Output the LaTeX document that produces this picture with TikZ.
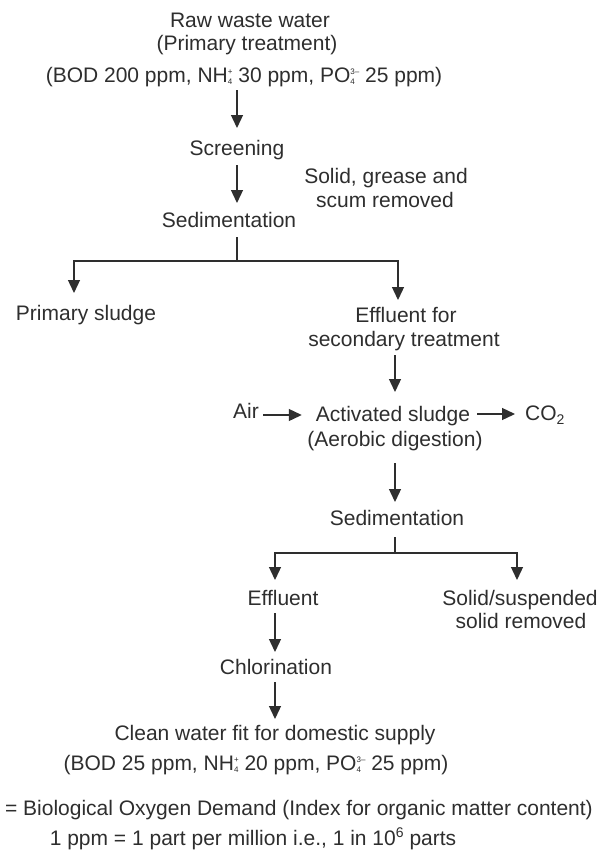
\documentclass[tikz,border=0pt]{standalone}
\usepackage{fontspec}
\setmainfont{Liberation Sans}
\usetikzlibrary{arrows.meta}
\definecolor{ink}{HTML}{2E2E2E}
% stacked subscript / superscript of an ion (e.g. NH4+, PO4 3-)
\newcommand\ionmark[2]{\rlap{\raisebox{-2.5pt}{\fontsize{8}{8}\selectfont #1}}\raisebox{8pt}{\fontsize{8}{8}\selectfont #2}}
\newcommand\lowidx[1]{\raisebox{-4pt}{\fontsize{14}{14}\selectfont #1}}
\newcommand\highidx[1]{\raisebox{8pt}{\fontsize{14}{14}\selectfont #1}}
\begin{document}
\begin{tikzpicture}[x=1pt,y=-1pt,
  txt/.style={inner sep=0pt, anchor=base, text=ink, font=\fontsize{21}{24}\selectfont},
  ln/.style={draw=ink, line width=1.3pt},
  arr/.style={ln, -{Triangle[length=13pt,width=12pt]}}]
\useasboundingbox[fill=white] (0,0) rectangle (602,852);

% primary treatment
\node[txt] (raw1) at (250,27) {Raw waste water};
\node[txt] (raw2) at (247,50) {(Primary treatment)};
\node[txt] (raw3) at (244,82) {(BOD 200 ppm, NH\ionmark{4}{+} 30 ppm, PO\ionmark{4}{3–}\ 25 ppm)};
\node[txt] (scr) at (237,155) {Screening};
\node[txt] (rem1) at (386,183) {Solid, grease and};
\node[txt] (rem2) at (385,207) {scum removed};
\node[txt] (sed1) at (229,227) {Sedimentation};
\node[txt] (psl) at (86,320) {Primary sludge};
\node[txt] (eff1) at (406,322) {Effluent for};
\node[txt] (eff2) at (404,346) {secondary treatment};

% secondary treatment
\node[txt] (air) at (246,418) {Air};
\node[txt] (act1) at (393,421) {Activated sludge};
\node[txt] (act2) at (395,446) {(Aerobic digestion)};
\node[txt, anchor=base west] (co2) at (525,420) {CO\lowidx{2}};
\node[txt] (sed2) at (397,525) {Sedimentation};
\node[txt] (eff) at (283,605) {Effluent};
\node[txt] (sol1) at (520,605) {Solid/suspended};
\node[txt] (sol2) at (521,628) {solid removed};
\node[txt] (chl) at (276,674) {Chlorination};
\node[txt] (cw1) at (275,740) {Clean water fit for domestic supply};
\node[txt] (cw2) at (256,770) {(BOD 25 ppm, NH\ionmark{4}{+} 20 ppm, PO\ionmark{4}{3–}\ 25 ppm)};

% notes
\node[txt, anchor=base east] (note1) at (593,815) {= Biological Oxygen Demand (Index for organic matter content)};
\node[txt] (note2) at (253,845) {1 ppm = 1 part per million i.e., 1 in 10\highidx{6} parts};

% branch points
\coordinate (j1) at (237,261);
\coordinate (j1l) at (74,261);
\coordinate (j1r) at (398,261);
\coordinate (j2) at (395,553);
\coordinate (j2l) at (275,553);
\coordinate (j2r) at (517,553);

% flow
\draw[arr] ([yshift=-8pt]raw3.base -| scr.base) -- ([yshift=27pt]scr.base);
\draw[arr] ([yshift=-10pt]scr.base) -- ([yshift=24pt]sed1.base -| scr.base);
\draw[ln] ([yshift=-10pt]sed1.base -| j1) -- (j1);
\draw[arr] (j1) -- (j1l) -- ([yshift=27pt]psl.base -| j1l);
\draw[arr] (j1) -- (j1r) -- ([yshift=22pt]eff1.base -| j1r);
\draw[arr] ([yshift=-9pt]eff2.base -| act2.base) -- ([yshift=29pt]act1.base -| act2.base);
\draw[arr] ([xshift=4pt,yshift=3pt]air.base east) -- ([xshift=-14pt,yshift=3pt]air.base east -| act1.west);
\draw[arr] ([xshift=7pt,yshift=7pt]act1.base east) -- ([xshift=-10pt,yshift=7pt]act1.base east -| co2.west);
\draw[arr] ([yshift=-17pt]act2.base -| j2) -- ([yshift=23pt]sed2.base -| j2);
\draw[ln] ([yshift=-12pt]sed2.base -| j2) -- (j2);
\draw[arr] (j2) -- (j2l) -- ([yshift=25pt]eff.base -| j2l);
\draw[arr] (j2) -- (j2r) -- ([yshift=25pt]sol1.base -| j2r);
\draw[arr] ([yshift=-8pt]eff.base -| j2l) -- ([yshift=22pt]chl.base -| j2l);
\draw[arr] ([yshift=-8pt]chl.base -| j2l) -- ([yshift=21pt]cw1.base -| j2l);
\end{tikzpicture}
\end{document}
